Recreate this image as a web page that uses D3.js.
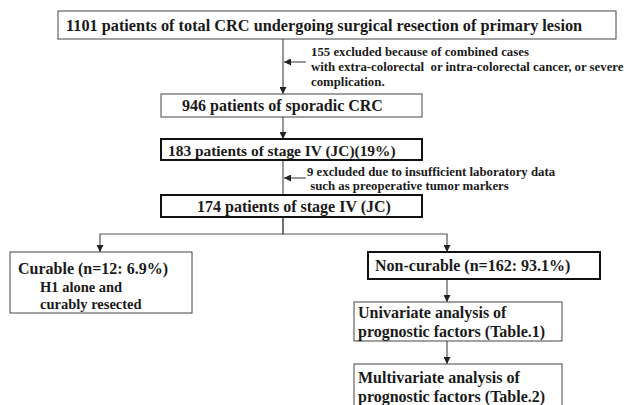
<!DOCTYPE html>
<html>
<head>
<meta charset="utf-8">
<script src="https://cdn.jsdelivr.net/npm/d3@7"></script>
<style>
html,body{margin:0;padding:0;background:#fff;}
svg{display:block;}
text{font-family:"Liberation Serif","Times New Roman",Times,serif;font-weight:bold;fill:#1a1a1a;}
</style>
</head>
<body>
<svg id="chart" width="627" height="405"></svg>
<script>
// ---- data ----
const boxIds = ["total","sporadic","stage4","stage4final","curable","noncurable","univariate","multivariate"];
const boxLines = [
  ["1101 patients of total CRC undergoing surgical resection of primary lesion"],
  ["946 patients of sporadic CRC"],
  ["183 patients of stage IV (JC)(19%)"],
  ["174 patients of stage IV (JC)"],
  ["Curable (n=12: 6.9%)", "H1 alone and", "curably resected"],
  ["Non-curable (n=162: 93.1%)"],
  ["Univariate analysis of", "prognostic factors (Table.1)"],
  ["Multivariate analysis of", "prognostic factors (Table.2)"]
];
const noteLines = [
  ["155 excluded because of combined cases",
   "with extra-colorectal  or intra-colorectal cancer, or severe",
   "complication."],
  ["9 excluded due to insufficient laboratory data",
   " such as preoperative tumor markers"]
];
const links = [
  ["total","sporadic"],["sporadic","stage4"],["stage4","stage4final"],
  ["stage4final","curable"],["stage4final","noncurable"],
  ["noncurable","univariate"],["univariate","multivariate"]
];

// ---- layout (positions & styles, kept separate from data) ----
const layout = {
  total:        {x:58,  y:11,  w:558, h:28, sw:1, tx:66,  ty:[31], fs:[16.3]},
  sporadic:     {x:161, y:94,  w:261, h:23, sw:1, tx:182, ty:[111], fs:[16]},
  stage4:       {x:161, y:139, w:261, h:21, sw:2, tx:168, ty:[156], fs:[15.4]},
  stage4final:  {x:161, y:195, w:261, h:22, sw:2, tx:197, ty:[212], fs:[16]},
  curable:      {x:10,  y:252, w:182, h:61, sw:1, tx:[18,40,40], ty:[274,292,309], fs:[16,14.5,14.5]},
  noncurable:   {x:368, y:252, w:232, h:27, sw:2, tx:375, ty:[271], fs:[16]},
  univariate:   {x:354, y:302, w:208, h:39, sw:1, tx:358, ty:[318,337], fs:[16,16]},
  multivariate: {x:354, y:364, w:208, h:60, sw:1, tx:358, ty:[383,402], fs:[16,16]}
};
const noteLayout = [
  {tx:[311,311,311], ty:[56,71,86], fs:12.8, arrowY:62, arrowX0:306},
  {tx:[307,307], ty:[176,190], fs:12.8, arrowY:178, arrowX0:306}
];
const spineX = 283, branchY = 234, leftX = 100, rightX = 447;
const spineNodes = ["total","sporadic","stage4","stage4final"];

const svg = d3.select("#chart");
const lineColor = "#555";

svg.append("defs").append("marker")
  .attr("id","arrow").attr("viewBox","0 0 10 10")
  .attr("refX",10).attr("refY",5)
  .attr("markerWidth",7).attr("markerHeight",7)
  .attr("markerUnits","userSpaceOnUse")
  .attr("orient","auto")
  .append("path").attr("d","M0,0L10,5L0,10Z").attr("fill","#222");

const byId = {};
boxIds.forEach((id,i)=>{ byId[id] = Object.assign({id, lines: boxLines[i]}, layout[id]); });

// connectors
const connG = svg.append("g").attr("fill","none").attr("stroke",lineColor).attr("stroke-width",1.2);
const line = d3.line();
links.forEach(([a,b])=>{
  const A = byId[a], B = byId[b];
  let pts, arrow = true;
  if (a === "stage4final") {
    const bx = b === "curable" ? leftX : rightX;
    pts = [[spineX, A.y + A.h], [spineX, branchY], [bx, branchY], [bx, B.y]];
  } else if (a === "stage4") {
    pts = [[spineX, A.y + A.h], [spineX, B.y]];
    arrow = false;
  } else {
    const x = spineNodes.includes(a) ? spineX : rightX;
    pts = [[x, A.y + A.h], [x, B.y]];
  }
  const p = connG.append("path").attr("d", line(pts));
  if (arrow) p.attr("marker-end","url(#arrow)");
});

// boxes
const boxG = svg.selectAll("g.box").data(boxIds.map(id=>byId[id])).join("g").attr("class","box");
boxG.append("rect")
  .attr("x", d=>d.x).attr("y", d=>d.y).attr("width", d=>d.w).attr("height", d=>d.h)
  .attr("fill","#fff").attr("stroke", d=> d.sw > 1 ? "#111" : "#444")
  .attr("stroke-width", d=>d.sw);
boxG.each(function(d){
  const g = d3.select(this);
  d.lines.forEach((t,i)=>{
    g.append("text")
      .attr("x", Array.isArray(d.tx) ? d.tx[i] : d.tx)
      .attr("y", d.ty[i])
      .attr("font-size", d.fs[i] + "px")
      .style("white-space","pre")
      .text(t);
  });
});

// exclusion notes
noteLines.forEach((lines,k)=>{
  const L = noteLayout[k];
  connG.append("path")
    .attr("d", line([[L.arrowX0, L.arrowY],[spineX+1, L.arrowY]]))
    .attr("marker-end","url(#arrow)");
  lines.forEach((t,i)=>{
    svg.append("text")
      .attr("x", L.tx[i]).attr("y", L.ty[i])
      .attr("font-size", L.fs + "px")
      .style("white-space","pre")
      .text(t);
  });
});
</script>
</body>
</html>
